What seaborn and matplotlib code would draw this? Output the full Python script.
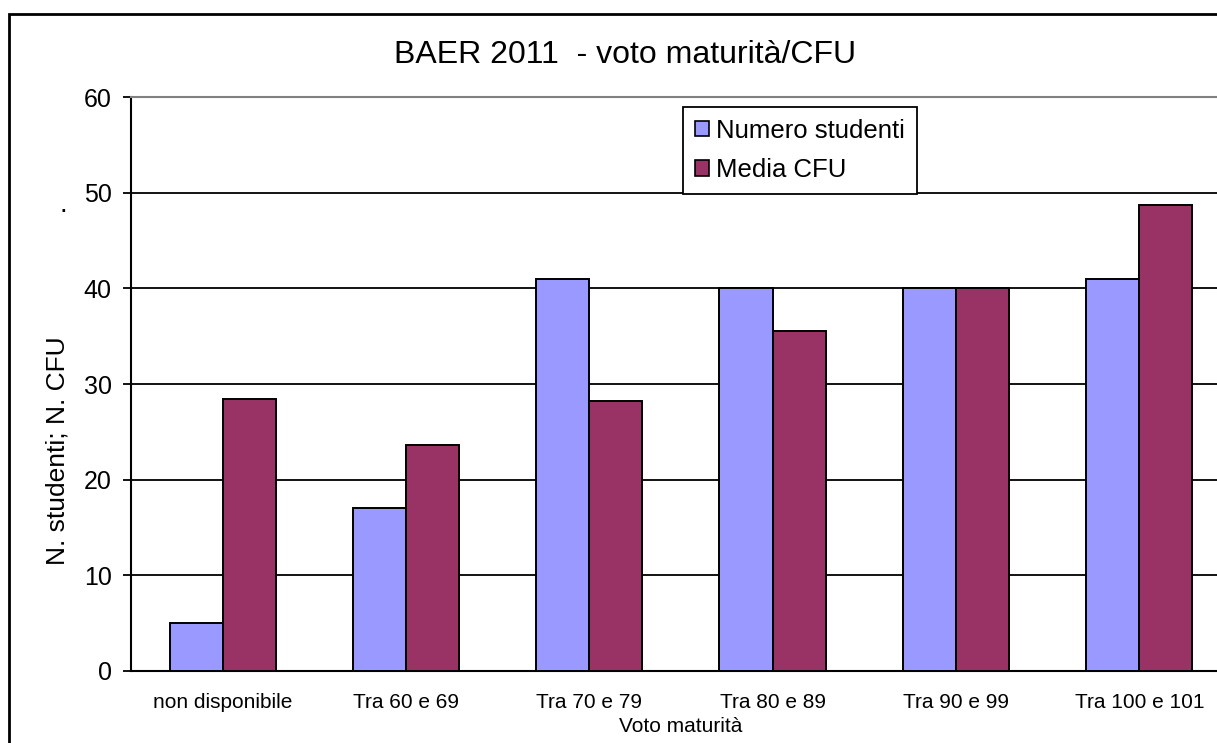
import matplotlib
matplotlib.use("Agg")
import matplotlib.pyplot as plt
from matplotlib.patches import Rectangle, Patch
import seaborn as sns
import pandas as pd

categories = ["non disponibile", "Tra 60 e 69", "Tra 70 e 79", "Tra 80 e 89", "Tra 90 e 99", "Tra 100 e 101"]
numero_studenti = [5, 17, 41, 40, 40, 41]
media_cfu = [28.4, 23.6, 28.2, 35.5, 40, 48.7]
series_names = ["Numero studenti", "Media CFU"]
colors = ["#9999FF", "#993366"]
y_ticks = [0, 10, 20, 30, 40, 50, 60]

df = pd.DataFrame({
    "cat": categories * 2,
    "val": numero_studenti + media_cfu,
    "serie": [series_names[0]] * len(categories) + [series_names[1]] * len(categories),
})

sns.set_theme(style="white")
plt.rcParams["font.family"] = ["Liberation Sans", "DejaVu Sans"]
plt.rcParams["text.color"] = "black"
plt.rcParams["axes.labelcolor"] = "black"
plt.rcParams["xtick.color"] = "black"
plt.rcParams["ytick.color"] = "black"

W, H = 1217, 743
fig = plt.figure(figsize=(W / 100, H / 100), dpi=100)
ax = fig.add_axes([131 / W, (H - 671) / H, 1100 / W, 574 / H])

sns.barplot(data=df, x="cat", y="val", hue="serie", order=categories,
            hue_order=series_names, palette=colors, width=0.58,
            edgecolor="black", linewidth=1.4, saturation=1, ax=ax, legend=False, zorder=3)

ax.set_xlim(-0.5, 5.5)
ax.set_ylim(0, 60)
ax.set_yticks(y_ticks)
ax.set_yticklabels([str(t) for t in y_ticks], fontsize=18, color="black")
ax.yaxis.grid(True, color="black", linewidth=1.3, zorder=0)
ax.set_axisbelow(True)
ax.xaxis.grid(False)

ax.set_xticks(range(len(categories)))
ax.set_xticklabels(categories, fontsize=15, color="black")
ax.set_xticks([i - 0.5 for i in range(len(categories) + 1)], minor=True)
ax.tick_params(axis="x", which="major", length=0, pad=16, colors="black")
ax.tick_params(axis="x", which="minor", length=6, width=1.3, color="black", direction="out")
ax.tick_params(axis="y", length=6, width=1.3, color="black", direction="out", pad=8, left=True)
ax.set_xlabel("")
ax.set_ylabel("")

for s in ["left", "bottom"]:
    ax.spines[s].set_color("black")
    ax.spines[s].set_linewidth(1.5)
ax.spines["top"].set_color("#808080")
ax.spines["top"].set_linewidth(1.5)
ax.spines["right"].set_visible(False)

fig.text(625 / W, 1 - 55 / H, "BAER 2011  - voto maturità/CFU", fontsize=23,
         ha="center", va="center", color="black")
fig.text(57 / W, 1 - 451 / H, "N. studenti; N. CFU", fontsize=19, rotation=90,
         ha="center", va="center", color="black")
fig.text(63 / W, 1 - 205 / H, ".", fontsize=20, ha="center", va="center", color="black")
fig.text(681 / W, 1 - 727 / H, "Voto maturità", fontsize=15, ha="center", va="center",
         color="black")

handles = [Patch(facecolor=c, edgecolor="black", linewidth=1.2) for c in colors]
leg = ax.legend(handles, series_names, loc="upper left",
                bbox_to_anchor=(683 / W, 1 - 107 / H), bbox_transform=fig.transFigure,
                fontsize=18.5, frameon=True, fancybox=False, framealpha=1,
                edgecolor="black", handlelength=0.55, handleheight=0.55,
                handletextpad=0.3, borderpad=0.45, labelspacing=0.6, borderaxespad=0)
leg.get_frame().set_linewidth(1.3)
for t in leg.get_texts():
    t.set_color("black")

fig.patches.append(Rectangle((9 / W, -0.1), 2, (H - 14) / H + 0.1,
                             transform=fig.transFigure, fill=False,
                             edgecolor="black", linewidth=2))

fig.savefig("out.png", dpi=100, facecolor="white")
